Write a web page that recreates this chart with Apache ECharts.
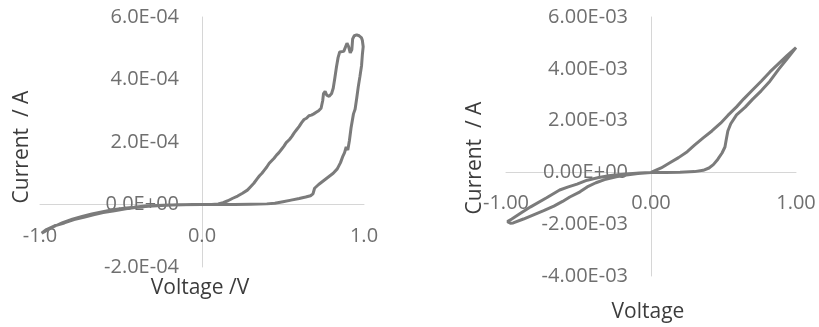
<!DOCTYPE html>
<html>
<head>
<meta charset="utf-8">
<style>
  html, body { margin: 0; padding: 0; background: #ffffff; }
  #chart { width: 819px; height: 327px; }
</style>
<script src="https://cdn.jsdelivr.net/npm/echarts@6/dist/echarts.min.js"></script>
</head>
<body>
<div id="chart"></div>
<script>
// ---- Left panel: voltage sweep (V) and measured current (A) ----
const leftVoltage = [
  0.00, 0.10, 0.20, 0.30, 0.40, 0.45, 0.50, 0.55, 0.60, 0.64, 0.67, 0.685, 0.695, 0.72, 0.75,
  0.78, 0.81, 0.835, 0.855, 0.87, 0.88, 0.89, 0.90, 0.91, 0.92, 0.935, 0.945, 0.955, 0.965,
  0.975, 0.985, 0.99, 0.995, 0.99, 0.985, 0.97, 0.955, 0.94, 0.93, 0.925, 0.915, 0.905, 0.895,
  0.885, 0.875, 0.865, 0.85, 0.84, 0.83, 0.82, 0.81, 0.80, 0.785, 0.77, 0.76, 0.75, 0.745,
  0.735, 0.72, 0.705, 0.69, 0.675, 0.66, 0.645, 0.63, 0.615, 0.60, 0.585, 0.57, 0.555, 0.54,
  0.52, 0.505, 0.49, 0.475, 0.46, 0.445, 0.43, 0.415, 0.40, 0.385, 0.37, 0.355, 0.34, 0.32,
  0.30, 0.28, 0.25, 0.22, 0.19, 0.16, 0.13, 0.10, 0.06, 0.00,
  -0.10, -0.20, -0.28, -0.35, -0.42, -0.48, -0.55, -0.62, -0.68, -0.74, -0.80, -0.86, -0.92,
  -0.97, -0.99,
  -0.96, -0.91, -0.85, -0.79, -0.73, -0.67, -0.61, -0.54, -0.47, -0.40, -0.33, -0.25, -0.15, 0.00
];
const leftCurrent = [
  0.0e-4, 0.0e-4, 0.0e-4, 0.01e-4, 0.02e-4, 0.04e-4, 0.09e-4, 0.14e-4, 0.19e-4, 0.24e-4, 0.28e-4,
  0.34e-4, 0.52e-4, 0.64e-4, 0.76e-4, 0.88e-4, 1.00e-4, 1.14e-4, 1.34e-4, 1.55e-4, 1.66e-4,
  1.84e-4, 1.74e-4, 2.05e-4, 2.45e-4, 2.90e-4, 3.05e-4, 3.40e-4, 3.78e-4, 4.10e-4, 4.45e-4,
  4.80e-4, 5.05e-4, 5.25e-4, 5.33e-4, 5.40e-4, 5.43e-4, 5.40e-4, 5.30e-4, 4.96e-4, 4.85e-4,
  5.05e-4, 5.16e-4, 5.10e-4, 4.90e-4, 4.95e-4, 4.88e-4, 4.70e-4, 4.40e-4, 4.05e-4, 3.72e-4,
  3.55e-4, 3.46e-4, 3.50e-4, 3.62e-4, 3.55e-4, 3.32e-4, 3.08e-4, 3.00e-4, 2.95e-4, 2.90e-4,
  2.86e-4, 2.84e-4, 2.76e-4, 2.72e-4, 2.62e-4, 2.50e-4, 2.40e-4, 2.30e-4, 2.18e-4, 2.08e-4,
  1.98e-4, 1.86e-4, 1.76e-4, 1.66e-4, 1.58e-4, 1.48e-4, 1.40e-4, 1.32e-4, 1.20e-4, 1.10e-4,
  1.00e-4, 0.92e-4, 0.82e-4, 0.68e-4, 0.57e-4, 0.46e-4, 0.36e-4, 0.27e-4, 0.20e-4, 0.12e-4,
  0.06e-4, 0.02e-4, 0.0e-4, 0.0e-4,
  -0.005e-4, -0.015e-4, -0.03e-4, -0.05e-4, -0.09e-4, -0.12e-4, -0.17e-4, -0.24e-4, -0.30e-4,
  -0.38e-4, -0.47e-4, -0.58e-4, -0.72e-4, -0.86e-4, -0.92e-4,
  -0.80e-4, -0.68e-4, -0.59e-4, -0.48e-4, -0.41e-4, -0.33e-4, -0.26e-4, -0.20e-4, -0.14e-4,
  -0.09e-4, -0.06e-4, -0.03e-4, -0.01e-4, 0.0e-4
];
const leftXTicks = ['-1.0', '0.0', '1.0'];
const leftYTicks = ['-2.0E-04', '0.0E+00', '2.0E-04', '4.0E-04', '6.0E-04'];

// ---- Right panel: voltage sweep (V) and measured current (A) ----
const rightVoltage = [
  0.00, 0.10, 0.20, 0.30, 0.36, 0.40, 0.43, 0.46, 0.49, 0.51, 0.52, 0.53, 0.55, 0.59, 0.65,
  0.70, 0.76, 0.82, 0.88, 0.94, 1.00,
  0.94, 0.88, 0.82, 0.76, 0.70, 0.64, 0.59, 0.53, 0.48, 0.42, 0.36, 0.30, 0.25, 0.19, 0.13,
  0.07, 0.00,
  -0.08, -0.17, -0.28, -0.36, -0.44, -0.51, -0.57, -0.63, -0.72, -0.83, -0.90, -0.96, -0.99,
  -0.97, -0.95, -0.88, -0.81, -0.74, -0.67, -0.61, -0.56, -0.49, -0.44, -0.38, -0.32, -0.24,
  -0.17, -0.09, 0.00
];
const rightCurrent = [
  0.00e-3, 0.00e-3, 0.01e-3, 0.03e-3, 0.08e-3, 0.17e-3, 0.30e-3, 0.50e-3, 0.75e-3, 0.98e-3,
  1.30e-3, 1.60e-3, 1.88e-3, 2.22e-3, 2.52e-3, 2.82e-3, 3.15e-3, 3.52e-3, 3.98e-3, 4.40e-3, 4.82e-3,
  4.52e-3, 4.20e-3, 3.88e-3, 3.52e-3, 3.18e-3, 2.84e-3, 2.53e-3, 2.20e-3, 1.90e-3, 1.60e-3,
  1.33e-3, 1.05e-3, 0.80e-3, 0.57e-3, 0.37e-3, 0.17e-3, 0.00e-3,
  -0.02e-3, -0.06e-3, -0.12e-3, -0.20e-3, -0.30e-3, -0.45e-3, -0.56e-3, -0.68e-3, -0.98e-3,
  -1.33e-3, -1.58e-3, -1.80e-3, -1.90e-3,
  -1.96e-3, -1.95e-3, -1.80e-3, -1.64e-3, -1.48e-3, -1.30e-3, -1.12e-3, -0.95e-3, -0.75e-3,
  -0.56e-3, -0.40e-3, -0.28e-3, -0.17e-3, -0.10e-3, -0.04e-3, 0.00e-3
];
const rightXTicks = ['-1.00', '0.00', '1.00'];
const rightYTicks = ['-4.00E-03', '-2.00E-03', '0.00E+00', '2.00E-03', '4.00E-03', '6.00E-03'];

const FONT = 'Open Sans';
const LABEL_COLOR = '#6f6f6f';
const TITLE_COLOR = '#3c3c3c';
const LINE_COLOR = '#7b7b7b';
const AXIS_COLOR = '#d6d6d6';

// Plot rectangles of the two panels
const panels = [
  { left: 40, top: 17, width: 324, height: 250, x: [-1, 1, 1], y: [-2e-4, 6e-4, 2e-4] },
  { left: 506, top: 17, width: 290, height: 259, x: [-1, 1, 1], y: [-4e-3, 6e-3, 2e-3] }
];

function pairs(xs, ys) {
  return xs.map((x, i) => [x, ys[i]]);
}

// Map a tick value to its label by its step index from the axis minimum
function tickLabeler(labels, min, step) {
  return (v) => labels[Math.round((v - min) / step)] ?? '';
}

// Axes cross at the origin: shift each axis (line and labels) onto the other's zero
function xAxisFor(i, labels, margin) {
  const p = panels[i];
  const [ymin, ymax] = p.y;
  const zeroFromBottom = p.height * (0 - ymin) / (ymax - ymin);
  return baseAxis(i, p.x, labels, margin, { position: 'bottom', offset: -zeroFromBottom });
}
function yAxisFor(i, labels, margin) {
  const p = panels[i];
  const [xmin, xmax] = p.x;
  const zeroFromLeft = p.width * (0 - xmin) / (xmax - xmin);
  return baseAxis(i, p.y, labels, margin, { position: 'left', offset: -zeroFromLeft });
}
function baseAxis(gridIndex, range, labels, margin, extra) {
  const [min, max, step] = range;
  return Object.assign({
    type: 'value',
    gridIndex,
    min, max, interval: step,
    axisLine: { show: true, onZero: false, lineStyle: { color: AXIS_COLOR, width: 1 } },
    axisTick: { show: false },
    splitLine: { show: false },
    axisLabel: {
      margin,
      color: LABEL_COLOR,
      fontFamily: FONT,
      fontSize: 20,
      formatter: tickLabeler(labels, min, step)
    }
  }, extra);
}

const chart = echarts.init(document.getElementById('chart'), null, { renderer: 'canvas' });

chart.setOption({
  animation: false,
  backgroundColor: '#ffffff',
  grid: panels.map(p => ({
    left: p.left, top: p.top, width: p.width, height: p.height,
    containLabel: false, outerBoundsMode: 'none'
  })),
  xAxis: [
    xAxisFor(0, leftXTicks, 22),
    xAxisFor(1, rightXTicks, 21)
  ],
  yAxis: [
    yAxisFor(0, leftYTicks, 23),
    yAxisFor(1, rightYTicks, 23)
  ],
  series: [
    {
      type: 'line', xAxisIndex: 0, yAxisIndex: 0,
      data: pairs(leftVoltage, leftCurrent),
      showSymbol: false, smooth: false,
      lineStyle: { color: LINE_COLOR, width: 3 }
    },
    {
      type: 'line', xAxisIndex: 1, yAxisIndex: 1,
      data: pairs(rightVoltage, rightCurrent),
      showSymbol: false, smooth: false,
      lineStyle: { color: LINE_COLOR, width: 3 }
    }
  ],
  graphic: [
    {
      type: 'text', x: 22, y: 147, rotation: Math.PI / 2,
      style: { text: 'Current  / A', fill: TITLE_COLOR, font: '21px "Open Sans"', align: 'center', verticalAlign: 'middle' }
    },
    {
      type: 'text', x: 200, y: 288,
      style: { text: 'Voltage /V', fill: TITLE_COLOR, font: '21px "Open Sans"', align: 'center', verticalAlign: 'middle' }
    },
    {
      type: 'text', x: 475, y: 158, rotation: Math.PI / 2,
      style: { text: 'Current  / A', fill: TITLE_COLOR, font: '21px "Open Sans"', align: 'center', verticalAlign: 'middle' }
    },
    {
      type: 'text', x: 648, y: 312,
      style: { text: 'Voltage', fill: TITLE_COLOR, font: '21px "Open Sans"', align: 'center', verticalAlign: 'middle' }
    }
  ]
});
</script>
</body>
</html>
